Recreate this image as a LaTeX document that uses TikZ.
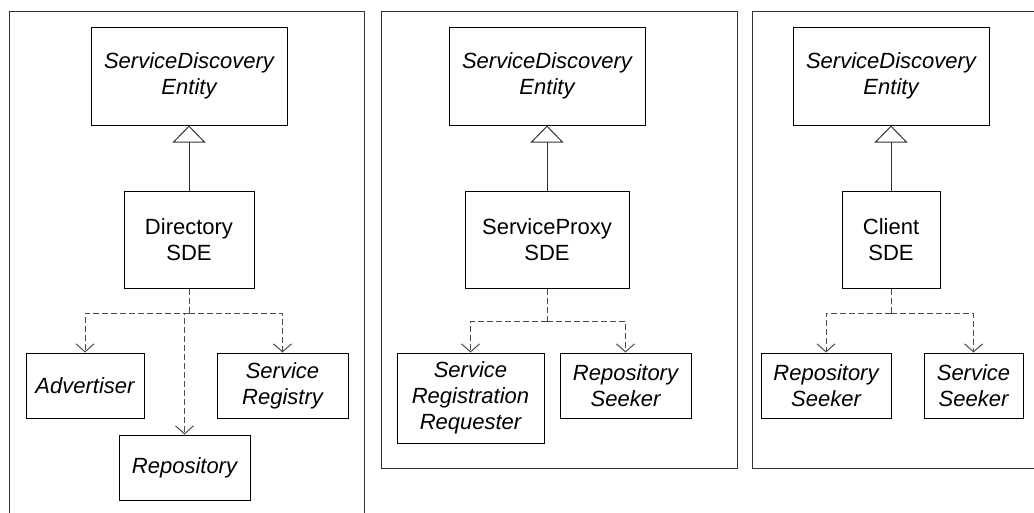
\documentclass[tikz,border=0pt]{standalone}
\usepackage{fontspec}
\setmainfont{Liberation Sans}
\usetikzlibrary{arrows.meta}
\begin{document}
\begin{tikzpicture}[x=1pt,y=-1pt,
  box/.style={draw=black, line width=1pt, inner sep=0pt, align=center,
    font=\fontsize{22}{26}\selectfont},
  abs/.style={box, font=\fontsize{22}{26}\selectfont\itshape},
  frame/.style={draw=black!80, line width=1pt},
  gen/.style={draw=black!80, line width=1pt, -{Triangle[length=17pt,width=33pt,fill=white,line width=1pt]}},
  dep/.style={draw=black!70, line width=1pt, dash pattern=on 6pt off 3pt,
    -{Straight Barb[length=8pt,width=18pt,line width=1pt]}},
  depl/.style={draw=black!70, line width=1pt, dash pattern=on 6pt off 3pt}
]
\useasboundingbox (0,0) rectangle (1034,512);
\clip (0,0) rectangle (1034,512);
\fill[white] (0,0) rectangle (1034,512);
% frames
\draw[frame] (9,11) rectangle (364,530);
\draw[frame] (381,11) rectangle (737,468);
\draw[frame] (752,11) rectangle (1050,468);

% panel 1
\node[abs, minimum width=196pt, minimum height=98pt] (sde1) at (189,76) {ServiceDiscovery\\Entity};
\node[box, minimum width=130pt, minimum height=97pt] (dir) at (189,239.5) {Directory\\SDE};
\node[abs, minimum width=118pt, minimum height=65pt] (adv) at (85,385.5) {Advertiser};
\node[abs, minimum width=131pt, minimum height=65pt] (reg) at (282.5,385.5) {Service\\Registry};
\node[abs, minimum width=131pt, minimum height=65pt] (rep) at (184.5,467.5) {Repository};
\draw[gen] (dir.north) -- (sde1.south);
\coordinate (j1) at (189,313);
\draw[depl] (dir.south) -- (j1);
\draw[dep] (j1) -| (adv.north);
\draw[dep] (j1) -| (reg.north);
\draw[dep] (j1) -| (rep.north);

% panel 2
\node[abs, minimum width=196pt, minimum height=98pt] (sde2) at (547,76) {ServiceDiscovery\\Entity};
\node[box, minimum width=164pt, minimum height=97pt] (proxy) at (547,239.5) {ServiceProxy\\SDE};
\node[abs, minimum width=147pt, minimum height=90pt] (srr) at (470.5,398) {Service\\Registration\\Requester};
\node[abs, minimum width=131pt, minimum height=65pt] (rs2) at (625.5,385.5) {Repository\\Seeker};
\draw[gen] (proxy.north) -- (sde2.south);
\coordinate (j2) at (547,321);
\draw[depl] (proxy.south) -- (j2);
\draw[dep] (j2) -| (srr.north);
\draw[dep] (j2) -| (rs2.north);

% panel 3
\node[abs, minimum width=196pt, minimum height=98pt] (sde3) at (891,76) {ServiceDiscovery\\Entity};
\node[box, minimum width=98pt, minimum height=97pt] (client) at (891,239.5) {Client\\SDE};
\node[abs, minimum width=130pt, minimum height=65pt] (rs3) at (826,385.5) {Repository\\Seeker};
\node[abs, minimum width=99pt, minimum height=65pt] (ss) at (973.5,385.5) {Service\\Seeker};
\draw[gen] (client.north) -- (sde3.south);
\coordinate (j3) at (891,313);
\draw[depl] (client.south) -- (j3);
\draw[dep] (j3) -| (rs3.north);
\draw[dep] (j3) -| (ss.north);
\end{tikzpicture}
\end{document}
